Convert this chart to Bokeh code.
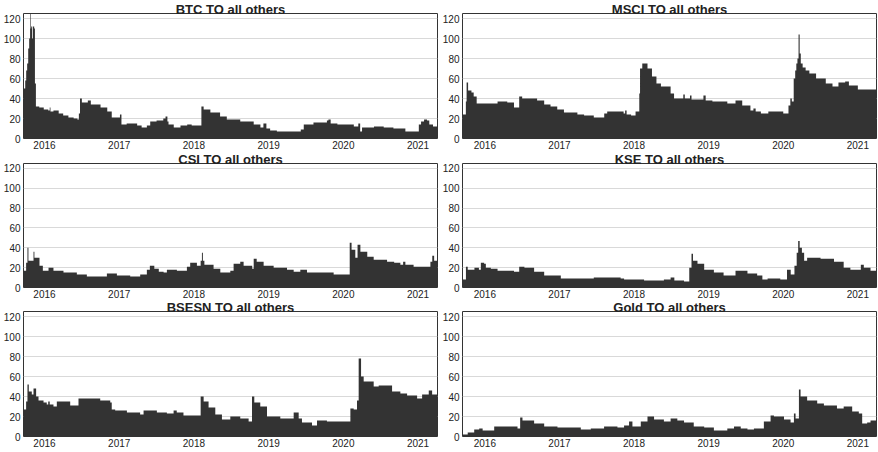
from bokeh.plotting import figure
from bokeh.layouts import gridplot
from bokeh.models import FixedTicker, Range1d
from bokeh.embed import file_html
from bokeh.resources import INLINE

# ---- data: (decimal year, value) ----
btc = [(2015.70, 50), (2015.742, 58), (2015.755, 68), (2015.768, 75), (2015.782, 90),
       (2015.795, 100), (2015.807, 125), (2015.815, 110), (2015.822, 112), (2015.835, 100),
       (2015.845, 112), (2015.862, 110), (2015.872, 55), (2015.885, 32), (2015.93, 31),
       (2015.99, 29), (2016.05, 28), (2016.07, 31), (2016.08, 27), (2016.12, 28),
       (2016.19, 25), (2016.25, 23), (2016.32, 21), (2016.39, 20), (2016.44, 19),
       (2016.46, 25), (2016.475, 40), (2016.50, 36), (2016.58, 38), (2016.62, 34),
       (2016.75, 31), (2016.84, 27), (2016.90, 21), (2017.01, 24), (2017.03, 14),
       (2017.10, 15), (2017.24, 13), (2017.30, 11), (2017.37, 13), (2017.415, 17),
       (2017.50, 18), (2017.59, 20), (2017.62, 22), (2017.645, 17), (2017.66, 14),
       (2017.73, 11), (2017.82, 13), (2017.91, 14), (2017.97, 13), (2018.10, 32),
       (2018.13, 29), (2018.22, 26), (2018.35, 22), (2018.44, 19), (2018.62, 17),
       (2018.80, 14), (2018.89, 11), (2018.93, 15), (2018.97, 10), (2019.02, 8),
       (2019.11, 7), (2019.43, 9), (2019.47, 14), (2019.60, 16), (2019.78, 18),
       (2019.80, 19), (2019.83, 15), (2019.92, 14), (2020.14, 12), (2020.20, 15),
       (2020.225, 7), (2020.25, 11), (2020.41, 12), (2020.54, 11), (2020.67, 10),
       (2020.83, 7), (2021.01, 14), (2021.04, 17), (2021.08, 19), (2021.12, 18),
       (2021.15, 14), (2021.20, 12)]

msci = [(2015.68, 24), (2015.745, 37), (2015.755, 56), (2015.775, 48), (2015.82, 46),
        (2015.85, 42), (2015.89, 35), (2016.00, 35), (2016.17, 37), (2016.30, 36),
        (2016.39, 31), (2016.46, 42), (2016.50, 40), (2016.70, 38), (2016.795, 34),
        (2016.88, 32), (2016.97, 29), (2017.06, 26), (2017.24, 24), (2017.33, 23),
        (2017.46, 21), (2017.60, 25), (2017.64, 27), (2017.86, 25), (2017.88, 28),
        (2017.90, 24), (2017.96, 23), (2018.02, 27), (2018.07, 45), (2018.08, 70),
        (2018.11, 75), (2018.18, 70), (2018.24, 62), (2018.30, 55), (2018.36, 52),
        (2018.49, 45), (2018.536, 40), (2018.66, 44), (2018.68, 40), (2018.75, 43),
        (2018.77, 39), (2018.93, 43), (2018.96, 38), (2019.05, 37), (2019.25, 35),
        (2019.36, 38), (2019.45, 33), (2019.56, 28), (2019.60, 30), (2019.63, 27),
        (2019.70, 25), (2019.80, 27), (2020.00, 25), (2020.07, 33), (2020.095, 40),
        (2020.115, 37), (2020.14, 60), (2020.16, 68), (2020.175, 75), (2020.19, 80),
        (2020.205, 104), (2020.22, 85), (2020.235, 75), (2020.26, 71), (2020.30, 68),
        (2020.35, 65), (2020.44, 60), (2020.57, 55), (2020.66, 52), (2020.74, 56),
        (2020.83, 57), (2020.88, 53), (2021.00, 49)]

csi = [(2015.70, 17), (2015.754, 25), (2015.772, 40), (2015.785, 27), (2015.853, 36),
       (2015.865, 30), (2015.933, 22), (2015.978, 17), (2016.054, 20), (2016.12, 17),
       (2016.254, 15), (2016.433, 13), (2016.567, 11), (2016.835, 14), (2016.969, 12),
       (2017.147, 11), (2017.281, 13), (2017.37, 18), (2017.41, 22), (2017.47, 19),
       (2017.53, 16), (2017.594, 15), (2017.638, 18), (2017.772, 17), (2017.906, 21),
       (2017.95, 25), (2018.04, 22), (2018.09, 27), (2018.107, 35), (2018.12, 27),
       (2018.14, 23), (2018.263, 19), (2018.353, 15), (2018.487, 17), (2018.531, 24),
       (2018.62, 26), (2018.665, 22), (2018.78, 19), (2018.80, 29), (2018.84, 26),
       (2018.933, 22), (2019.067, 20), (2019.246, 18), (2019.335, 16), (2019.424, 18),
       (2019.513, 15), (2019.87, 13), (2020.085, 45), (2020.11, 38), (2020.16, 30),
       (2020.19, 43), (2020.228, 36), (2020.32, 31), (2020.406, 28), (2020.585, 26),
       (2020.68, 25), (2020.763, 23), (2020.80, 26), (2020.83, 23), (2020.94, 21),
       (2021.165, 26), (2021.19, 32), (2021.215, 27)]

kse = [(2015.68, 8), (2015.746, 21), (2015.77, 18), (2015.86, 20), (2015.92, 18),
       (2015.946, 25), (2015.99, 24), (2016.013, 20), (2016.08, 19), (2016.17, 17),
       (2016.39, 16), (2016.46, 21), (2016.53, 20), (2016.66, 16), (2016.795, 12),
       (2017.018, 9), (2017.33, 9), (2017.46, 10), (2017.64, 10), (2017.82, 9),
       (2017.866, 8), (2018.134, 7), (2018.40, 8), (2018.49, 10), (2018.54, 7),
       (2018.67, 6), (2018.74, 20), (2018.77, 34), (2018.79, 27), (2018.85, 24),
       (2018.94, 18), (2019.07, 15), (2019.20, 12), (2019.36, 17), (2019.52, 14),
       (2019.65, 12), (2019.72, 8), (2019.79, 9), (2019.96, 8), (2020.05, 18),
       (2020.10, 13), (2020.15, 22), (2020.18, 35), (2020.20, 47), (2020.22, 40),
       (2020.25, 35), (2020.28, 27), (2020.32, 30), (2020.50, 29), (2020.68, 26),
       (2020.81, 20), (2020.90, 18), (2021.04, 23), (2021.08, 20), (2021.17, 17)]

bsesn = [(2015.70, 27), (2015.754, 35), (2015.772, 52), (2015.79, 45), (2015.83, 42),
         (2015.853, 48), (2015.888, 40), (2015.92, 36), (2015.987, 34), (2016.03, 32),
         (2016.05, 35), (2016.07, 32), (2016.12, 30), (2016.165, 35), (2016.344, 31),
         (2016.455, 38), (2016.746, 36), (2016.88, 34), (2016.90, 27), (2016.946, 26),
         (2017.103, 24), (2017.28, 22), (2017.326, 26), (2017.504, 24), (2017.638, 23),
         (2017.728, 26), (2017.77, 24), (2017.86, 21), (2018.09, 40), (2018.13, 35),
         (2018.196, 29), (2018.286, 22), (2018.375, 17), (2018.487, 20), (2018.62, 18),
         (2018.732, 15), (2018.777, 40), (2018.808, 34), (2018.888, 30), (2018.978, 20),
         (2019.156, 18), (2019.335, 24), (2019.402, 18), (2019.446, 14), (2019.58, 11),
         (2019.647, 16), (2019.78, 15), (2020.094, 28), (2020.138, 27), (2020.183, 36),
         (2020.205, 78), (2020.237, 60), (2020.272, 55), (2020.406, 50), (2020.473, 51),
         (2020.652, 45), (2020.763, 43), (2020.853, 41), (2020.987, 38), (2021.054, 42),
         (2021.143, 46), (2021.188, 42)]

gold = [(2015.68, 2), (2015.77, 4), (2015.857, 7), (2015.924, 8), (2015.97, 6),
        (2016.125, 10), (2016.4375, 8), (2016.473, 19), (2016.504, 16), (2016.66, 13),
        (2016.795, 10), (2016.973, 9), (2017.286, 7), (2017.42, 8), (2017.598, 10),
        (2017.777, 9), (2017.866, 11), (2017.933, 15), (2017.978, 10), (2018.09, 15),
        (2018.18, 20), (2018.268, 17), (2018.40, 15), (2018.49, 18), (2018.58, 16),
        (2018.67, 14), (2018.80, 10), (2018.94, 9), (2019.07, 6), (2019.25, 8),
        (2019.34, 10), (2019.43, 8), (2019.52, 7), (2019.607, 8), (2019.74, 15),
        (2019.83, 21), (2019.875, 20), (2020.01, 17), (2020.098, 14), (2020.143, 23),
        (2020.165, 18), (2020.21, 47), (2020.232, 40), (2020.32, 36), (2020.455, 33),
        (2020.545, 31), (2020.72, 28), (2020.81, 30), (2020.924, 25), (2021.013, 23),
        (2021.058, 13), (2021.125, 14), (2021.17, 16)]

titles = ["BTC TO all others", "MSCI TO all others", "CSI TO all others",
          "KSE TO all others", "BSESN TO all others", "Gold TO all others"]
series = [btc, msci, csi, kse, bsesn, gold]

year_ticks = [2016, 2017, 2018, 2019, 2020, 2021]
value_ticks = [0, 20, 40, 60, 80, 100, 120]
X_SPAN = [(2015.719, 2021.26), (2015.70, 2021.25)]   # per column
Y_MAX = 125

FONT = "Liberation Sans"
FW = 414
# per row: (top border, frame height, bottom border)
ROWS = [(13, 125, 14), (11, 124, 13), (11, 125, 15)]
# per column: (left border, right border)
COLS = [(23, 2), (23, 1)]


def make_panel(title, data, row, col):
    x0, x1 = X_SPAN[col]
    t = [d[0] for d in data] + [x1]
    v = [d[1] for d in data] + [data[-1][1]]
    top, fh, bottom = ROWS[row]
    left, right = COLS[col]
    p = figure(width=left + FW + right, height=top + fh + bottom, title=title,
               x_range=Range1d(x0, x1), y_range=Range1d(0, Y_MAX),
               output_backend="svg", toolbar_location=None,
               min_border_left=left, min_border_right=right,
               min_border_top=top, min_border_bottom=bottom,
               background_fill_color="white", border_fill_color="white")
    p.title.align = "center"
    p.title.vertical_align = "middle"
    p.title.standoff = -8
    p.title.text_font = FONT
    p.title.text_font_style = "bold"
    p.title.text_font_size = "13px"
    p.title.text_color = "#222222"
    p.varea_step(x=t, y1=0, y2=v, step_mode="after", fill_color="#333333")
    p.xgrid.visible = False
    p.ygrid.grid_line_color = "#d9d9d9"
    p.ygrid.grid_line_width = 1
    p.outline_line_color = "#333333"
    p.outline_line_width = 1
    p.outline_line_alpha = 1
    p.xaxis.ticker = FixedTicker(ticks=year_ticks)
    p.yaxis.ticker = FixedTicker(ticks=value_ticks)
    for ax in (p.xaxis, p.yaxis):
        ax.axis_line_color = None
        ax.major_tick_line_color = None
        ax.minor_tick_line_color = None
        ax.major_tick_out = 0
        ax.major_tick_in = 0
        ax.major_label_text_font = FONT
        ax.major_label_text_font_size = "10px"
        ax.major_label_text_color = "#222222"
    p.xaxis.major_label_standoff = 2
    p.yaxis.major_label_standoff = 3
    return p


figs = [make_panel(titles[i], series[i], i // 2, i % 2) for i in range(6)]
grid = gridplot([[figs[0], figs[1]], [figs[2], figs[3]], [figs[4], figs[5]]],
                toolbar_location=None)

open("out.html", "w").write(file_html(grid, INLINE))
